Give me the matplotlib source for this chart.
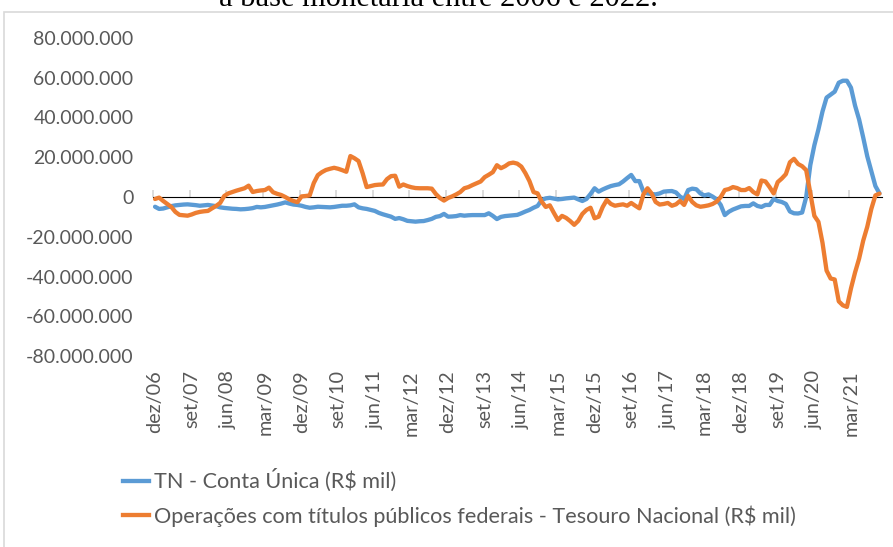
import matplotlib
matplotlib.use("Agg")
import matplotlib.pyplot as plt
from matplotlib.patches import Rectangle
from matplotlib.lines import Line2D
import numpy as np

plt.rcParams['font.family'] = ['Lato', 'DejaVu Sans']

# Monthly series, dez/06 .. out/21, values in millions of R$ mil
conta_unica = [
    -4.9, -6.0, -5.8, -5.2, -4.6, -4.2, -4.0, -3.8, -3.7, -3.9,
    -4.1, -4.4, -4.2, -4.0, -4.3, -4.6, -5.2, -5.5, -5.7, -5.9,
    -6.0, -6.2, -6.1, -5.9, -5.6, -5.0, -5.2, -5.0, -4.6, -4.2,
    -3.8, -3.3, -2.7, -3.3, -3.8, -4.0, -4.4, -5.0, -5.4, -5.2,
    -4.9, -5.0, -5.1, -5.2, -5.0, -4.7, -4.4, -4.4, -4.2, -3.7,
    -5.2, -5.7, -6.0, -6.5, -7.0, -8.0, -8.7, -9.3, -9.9, -11.0,
    -10.6, -11.2, -12.0, -12.2, -12.4, -12.2, -12.1, -11.6, -11.0, -10.0,
    -9.6, -8.5, -9.9, -9.8, -9.6, -9.1, -9.4, -9.2, -9.1, -9.1,
    -9.1, -9.1, -8.2, -9.5, -11.1, -10.0, -9.6, -9.4, -9.2, -9.0,
    -8.2, -7.3, -6.5, -5.4, -4.5, -1.5, -0.7, -0.4, -0.8, -1.2,
    -1.0, -0.7, -0.5, -0.3, -1.2, -2.0, -1.0, 1.5, 4.4, 2.7,
    3.8, 4.7, 5.5, 6.0, 6.4, 7.8, 9.5, 11.1, 8.0, 8.0,
    2.7, 1.8, 1.5, 1.3, 1.8, 2.7, 2.9, 3.0, 2.3, 0.2,
    -1.0, 3.5, 4.2, 3.9, 1.8, 0.8, 1.3, 0.2, -1.2, -4.0,
    -9.1, -7.4, -6.3, -5.5, -4.7, -4.5, -4.5, -3.2, -4.5, -5.0,
    -4.0, -4.0, -1.0, -2.0, -2.5, -3.5, -7.3, -8.2, -8.3, -7.8,
    0.0, 16.0, 26.0, 34.0, 43.0, 50.0, 51.5, 53.0, 57.5, 58.5,
    58.5, 55.0, 46.0, 39.0, 30.0, 20.5, 13.0, 5.5, 1.8,
]

operacoes_titulos = [
    -1.0, -0.3, -2.0, -3.5, -5.0, -7.5, -9.0, -9.2, -9.4, -8.8,
    -8.0, -7.5, -7.2, -7.0, -5.7, -4.5, -3.0, 0.5, 1.8, 2.5,
    3.2, 3.8, 4.4, 5.7, 2.5, 3.0, 3.3, 3.5, 4.7, 2.4,
    1.6, 1.0, 0.0, -1.2, -2.0, -2.6, 0.3, 0.5, 0.8, 7.0,
    11.0, 12.5, 13.6, 14.2, 14.7, 14.2, 13.5, 12.7, 20.6, 19.5,
    18.1, 12.0, 5.0, 5.5, 6.0, 6.2, 6.3, 9.0, 10.5, 10.7,
    5.2, 6.3, 5.5, 4.9, 4.5, 4.4, 4.4, 4.4, 4.2, 1.5,
    -0.5, -1.8, -0.5, 0.3, 1.3, 2.5, 4.4, 5.0, 6.0, 6.9,
    7.8, 10.0, 11.2, 12.5, 16.0, 14.5, 15.5, 16.9, 17.3, 16.8,
    15.3, 12.0, 8.0, 2.5, 1.8, -2.3, -5.0, -4.2, -8.0, -11.6,
    -9.5, -10.5, -12.1, -14.0, -12.0, -8.5, -6.5, -5.4, -10.7, -9.9,
    -5.0, -1.5, -3.5, -4.4, -4.0, -3.7, -4.4, -3.0, -4.4, -5.7,
    1.3, 4.4, 1.8, -2.5, -3.8, -3.5, -3.0, -4.4, -3.7, -2.0,
    -4.0, 0.5, -2.5, -4.2, -4.9, -4.6, -4.2, -3.5, -2.3, 0.0,
    3.5, 4.0, 5.0, 4.5, 3.5, 3.5, 4.5, 2.5, 1.3, 8.3,
    7.8, 5.0, 1.8, 7.5, 9.3, 11.5, 17.5, 19.2, 16.6, 15.5,
    13.5, 2.0, -9.5, -12.5, -23.0, -37.0, -41.0, -41.5, -52.5, -54.5,
    -55.3, -46.0, -38.0, -31.0, -22.0, -15.0, -6.0, 0.8, 1.7,
]

tick_labels = ["dez/06", "set/07", "jun/08", "mar/09", "dez/09", "set/10",
               "jun/11", "mar/12", "dez/12", "set/13", "jun/14", "mar/15",
               "dez/15", "set/16", "jun/17", "mar/18", "dez/18", "set/19",
               "jun/20", "mar/21"]
label_step = 9
y_ticks = [-80, -60, -40, -20, 0, 20, 40, 60, 80]

series_names = ["TN - Conta Única (R$ mil)",
                "Operações com títulos públicos federais - Tesouro Nacional (R$ mil)"]
blue = "#5B9BD5"
orange = "#ED7D31"
text_color = "#595959"
grid_color = "#D9D9D9"

W, H = 893, 547
fig = plt.figure(figsize=(W / 100, H / 100), dpi=100)

def px(x0, y0, x1, y1):
    return [x0 / W, 1 - y1 / H, (x1 - x0) / W, (y1 - y0) / H]

ax = fig.add_axes(px(153, 38, 881.5, 356))

n = len(conta_unica)
x = np.arange(n)
scale = 1e6
ax.plot(x, np.array(conta_unica) * scale, color=blue, lw=3.1,
        solid_joinstyle='round', solid_capstyle='round', zorder=3)
ax.plot(x, np.array(operacoes_titulos) * scale, color=orange, lw=3.1,
        solid_joinstyle='round', solid_capstyle='round', zorder=3)

ax.set_xlim(-0.5, n - 0.5)
ax.set_ylim(-80e6, 80e6)
for s in ax.spines.values():
    s.set_visible(False)

ax.set_yticks([v * scale for v in y_ticks])
ax.set_yticklabels([f"{v * 1000000:,.0f}".replace(",", ".") for v in y_ticks])
ax.tick_params(axis='y', length=0, pad=14, labelsize=14, labelcolor=text_color)

label_pos = np.arange(len(tick_labels)) * label_step
ax.set_xticks(label_pos)
ax.set_xticklabels(tick_labels, rotation=90, va='top', ha='center')
ax.tick_params(axis='x', length=0, pad=10, labelsize=14.3, labelcolor=text_color)

# horizontal category axis line at zero with boundary tick marks
sec = ax.secondary_xaxis(0.5)
sec.set_xticks(np.arange(-0.5, n, label_step))
sec.set_xticklabels([])
sec.tick_params(axis='x', direction='out', length=5, width=1.3, color=grid_color)
sec.spines['bottom'].set_color(grid_color)
sec.spines['bottom'].set_linewidth(1.5)
sec.set_zorder(1)
ax.set_zorder(2)
ax.patch.set_visible(False)

handles = [Line2D([], [], color=blue, lw=3.1), Line2D([], [], color=orange, lw=3.1)]
leg = fig.legend(handles, series_names, loc='upper left',
                 bbox_to_anchor=(123 / W, 1 - 469 / H), frameon=False,
                 fontsize=15.6, labelcolor=text_color, handlelength=1.2,
                 handletextpad=0.25, labelspacing=0.62, borderaxespad=0,
                 borderpad=0)

# outer chart border
fig.patches.append(Rectangle((4 / W, -0.05), 1.2, 1 - 12 / H + 0.05,
                             transform=fig.transFigure, fill=False,
                             edgecolor=grid_color, lw=1.2))

fig.text(438 / W, 1 - 6 / H, "a base monetária entre 2006 e 2022.",
         ha='center', va='baseline', fontsize=22,
         family=['Liberation Serif', 'DejaVu Serif'], color='black')

fig.savefig("out.png", dpi=100)
